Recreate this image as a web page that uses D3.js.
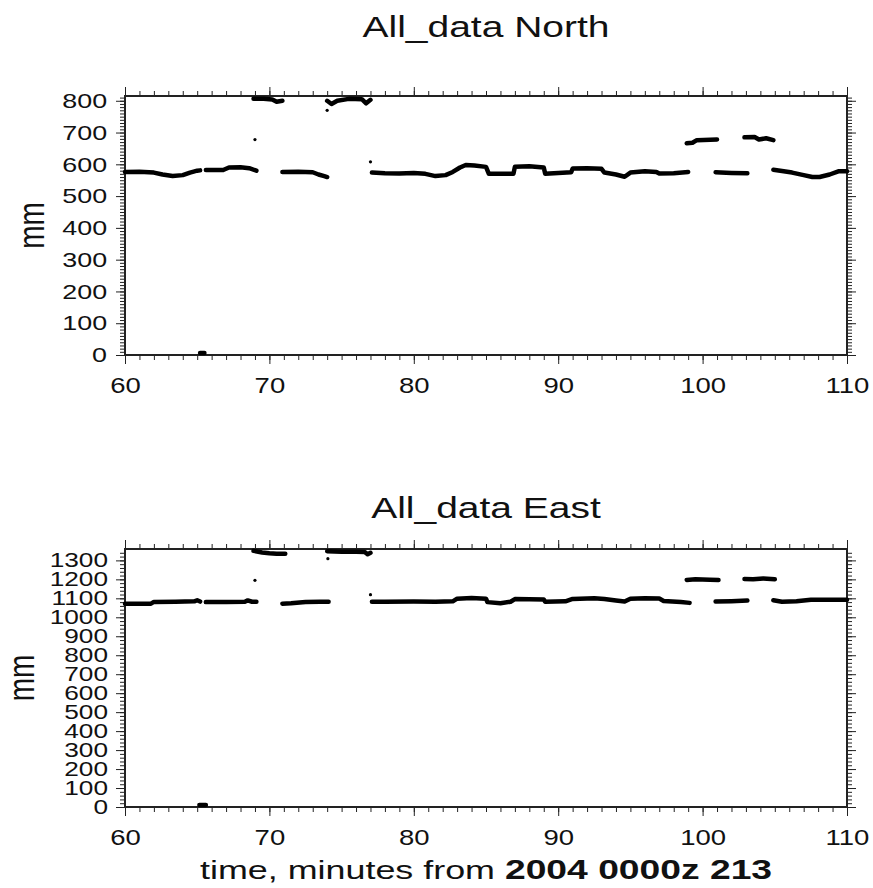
<!DOCTYPE html>
<html><head><meta charset="utf-8">
<script src="https://cdn.jsdelivr.net/npm/d3@7"></script>
<style>
body{margin:0;background:#fff}
svg{display:block}
text{font-family:"Liberation Sans",Arial,Helvetica,sans-serif;fill:#111}
</style></head>
<body><svg id="c" width="873" height="888"></svg>
<script>
// ---------- data ----------
const xTickValues = [60, 70, 80, 90, 100, 110];
const northTickValues = [0, 100, 200, 300, 400, 500, 600, 700, 800];
const eastTickValues = [0, 100, 200, 300, 400, 500, 600, 700, 800, 900, 1000, 1100, 1200, 1300];

// time (minutes) / value (mm); null marks a gap in the trace
const northTime = [60.0,61.0,62.0,62.6,63.3,64.0,64.5,65.0,65.2,null,
  65.2,65.5,null,
  65.6,66.0,66.8,67.2,68.0,68.6,69.1,null,
  68.9,69.6,70.2,70.5,70.9,null,
  70.9,72.0,73.0,73.4,73.8,74.0,null,
  74.0,74.3,74.7,75.5,76.4,76.7,77.0,null,
  77.1,78.0,79.0,80.0,80.8,81.5,82.2,82.7,83.2,83.6,84.2,85.0,85.2,86.9,87.0,88.0,89.0,89.1,90.0,90.9,91.0,92.0,93.0,93.2,94.0,94.6,95.0,96.0,96.8,97.0,98.0,99.0,null,
  98.9,99.3,99.6,101.0,null,
  100.9,102.0,103.1,null,
  102.9,103.6,103.9,104.4,104.9,null,
  104.9,105.5,106.2,107.0,107.6,108.1,108.8,109.4,110.0];
const northValue = [576,577,574,568,563,566,574,580,581,null,
  6,6,null,
  582,582,582,590,591,588,580,null,
  806,806,804,797,800,null,
  576,577,575,568,563,560,null,
  800,790,800,806,805,792,803,null,
  574,572,571,573,570,563,566,576,590,598,596,592,570,570,592,594,590,570,573,575,587,588,586,574,568,561,574,578,576,571,572,576,null,
  666,668,676,678,null,
  575,573,572,null,
  685,686,678,682,676,null,
  583,579,574,566,560,560,568,578,578];
const northOutlierTime = [69.0, 74.0, 77.0];
const northOutlierValue = [678, 770, 608];

const eastTime = [60.0,61.8,62.0,63.5,64.8,65.0,65.2,null,
  65.15,65.6,null,
  65.6,67.0,68.3,68.5,68.8,69.1,null,
  68.9,69.5,70.0,70.5,71.1,null,
  70.9,71.5,72.5,73.5,74.1,null,
  74.0,75.0,76.0,76.6,76.8,77.0,null,
  77.1,78.0,80.0,81.5,82.7,83.0,84.0,85.0,85.1,86.0,86.7,87.0,88.0,89.0,89.1,90.5,91.0,92.5,93.2,94.0,94.6,95.0,96.0,97.0,97.3,98.5,99.1,null,
  98.9,99.5,100.5,101.1,null,
  100.9,102.0,103.1,null,
  102.9,103.5,104.2,105.0,null,
  104.9,105.5,106.5,107.5,109.0,110.0];
const eastValue = [1072,1072,1081,1082,1084,1090,1083,null,
  10,10,null,
  1080,1081,1082,1089,1082,1082,null,
  1350,1342,1338,1335,1335,null,
  1072,1074,1080,1082,1082,null,
  1348,1346,1346,1344,1332,1340,null,
  1082,1082,1083,1082,1084,1098,1102,1098,1080,1074,1082,1096,1095,1094,1082,1084,1097,1100,1096,1088,1083,1098,1100,1099,1086,1080,1076,null,
  1197,1200,1198,1196,null,
  1083,1085,1088,null,
  1202,1201,1205,1200,null,
  1090,1082,1084,1092,1093,1093];
const eastOutlierTime = [69.0, 74.05, 77.0];
const eastOutlierValue = [1195, 1309, 1119];

// ---------- drawing ----------
const svg = d3.select("#c");
const SX = 1.28; // horizontal stretch of the lettering

function panel(o) {
  const x = d3.scaleLinear().domain([60, 110]).range([125, 847]);
  const y = d3.scaleLinear().domain([0, o.yMax]).range([o.bottom, o.top]);
  const g = svg.append("g");

  // title
  g.append("text").attr("transform", `translate(486,${o.titleY}) scale(1.3,1)`)
    .attr("text-anchor", "middle").attr("font-size", 30).text(o.title);

  const tickStyle = s => { s.select(".domain").remove(); s.selectAll("line").attr("stroke", "#222").attr("stroke-width", 1); };
  const xMinor = d3.range(60, 110.001, 1);
  const yMinor = d3.range(0, o.yMax, o.yMinorStep);

  // minor ticks
  g.append("g").attr("transform", `translate(0,${o.bottom})`)
    .call(d3.axisBottom(x).tickValues(xMinor).tickSize(5).tickFormat("")).call(tickStyle);
  g.append("g").attr("transform", `translate(0,${o.top})`)
    .call(d3.axisTop(x).tickValues(xMinor).tickSize(5).tickFormat("")).call(tickStyle);
  g.append("g").attr("transform", `translate(125,0)`)
    .call(d3.axisLeft(y).tickValues(yMinor).tickSize(5).tickFormat("")).call(tickStyle);
  g.append("g").attr("transform", `translate(847,0)`)
    .call(d3.axisRight(y).tickValues(yMinor).tickSize(5).tickFormat("")).call(tickStyle);

  // major ticks
  const bx = g.append("g").attr("transform", `translate(0,${o.bottom})`)
    .call(d3.axisBottom(x).tickValues(xTickValues).tickSize(9).tickPadding(13).tickFormat(d3.format("d"))).call(tickStyle);
  bx.selectAll("text").attr("font-size", 22).attr("font-family", null).attr("fill", "#111")
    .attr("transform", `scale(1.25,1)`);
  g.append("g").attr("transform", `translate(0,${o.top})`)
    .call(d3.axisTop(x).tickValues(xTickValues).tickSize(9).tickFormat("")).call(tickStyle);
  const ly = g.append("g").attr("transform", `translate(125,0)`)
    .call(d3.axisLeft(y).tickValues(o.yTicks).tickSize(9).tickPadding(o.yPad).tickFormat(d3.format("d"))).call(tickStyle);
  ly.selectAll("text").attr("font-size", o.yFont).attr("font-family", null).attr("fill", "#111")
    .attr("transform", `scale(${SX},1)`);
  g.append("g").attr("transform", `translate(847,0)`)
    .call(d3.axisRight(y).tickValues(o.yTicks).tickSize(9).tickFormat("")).call(tickStyle);

  // frame
  g.append("rect").attr("x", 125).attr("y", o.top).attr("width", 722).attr("height", o.bottom - o.top)
    .attr("fill", "none").attr("stroke", "#222").attr("stroke-width", 2);

  // y label
  g.append("text").attr("transform", `translate(${o.labelX},${(o.top + o.bottom) / 2}) scale(1.3,1) rotate(-90)`)
    .attr("text-anchor", "middle").attr("font-size", 28).text("mm");

  // data trace
  const pts = o.time.map((t, i) => ({t, v: o.value[i]}));
  const line = d3.line().defined(d => d.t !== null && d.v !== null)
    .x(d => x(d.t)).y(d => y(d.v));
  g.append("path").attr("d", line(pts)).attr("fill", "none").attr("stroke", "#000")
    .attr("stroke-width", 4.5).attr("stroke-linecap", "round").attr("stroke-linejoin", "round");

  g.selectAll("circle.out").data(o.outT.map((t, i) => ({t, v: o.outV[i]}))).join("circle")
    .attr("class", "out").attr("cx", d => x(d.t)).attr("cy", d => y(d.v)).attr("r", 1.6).attr("fill", "#000");
}

panel({title: "All_data North", titleY: 37, top: 96, bottom: 355, yMax: 815, yTicks: northTickValues,
  yMinorStep: 10, yPad: 5, yFont: 21, labelX: 44, time: northTime, value: northValue,
  outT: northOutlierTime, outV: northOutlierValue});
panel({title: "All_data East", titleY: 518, top: 549, bottom: 807, yMax: 1360, yTicks: eastTickValues,
  yMinorStep: 20, yPad: 4.3, yFont: 20.5, labelX: 34, time: eastTime, value: eastValue,
  outT: eastOutlierTime, outV: eastOutlierValue});

const xt = svg.append("text").attr("transform", "translate(486,879) scale(1.38,1)")
  .attr("text-anchor", "middle").attr("font-size", 26);
xt.append("tspan").text("time, minutes from ");
xt.append("tspan").attr("font-weight", "bold").attr("font-size", 27).text("2004 0000z 213");
</script>
</body></html>
